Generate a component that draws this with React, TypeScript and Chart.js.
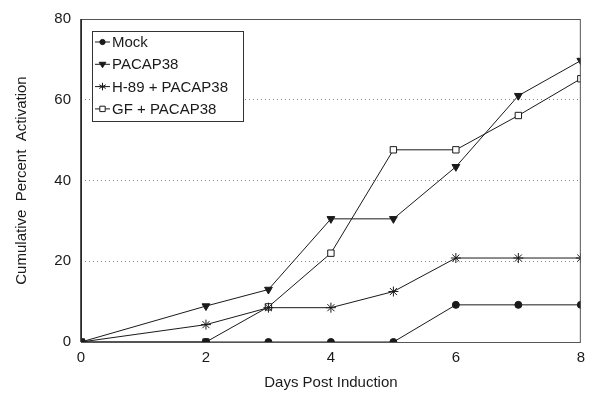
import React, { useEffect, useRef } from "react";
import { Chart, registerables } from "chart.js";

Chart.register(...registerables);

const days = [0, 2, 3, 4, 5, 6, 7, 8];
const mock = [0, 0, 0, 0, 0, 9.2, 9.2, 9.2];
const pacap38 = [0, 8.9, 13.0, 30.5, 30.5, 43.4, 61.0, 69.7];
const h89Pacap = [0, 4.3, 8.5, 8.5, 12.5, 20.8, 20.8, 20.8];
const gfPacap = [0, 0, 8.7, 22.0, 47.6, 47.6, 56.1, 65.2];
const seriesNames = ["Mock", "PACAP38", "H-89 + PACAP38", "GF + PACAP38"];
const yTicks = [0, 20, 40, 60, 80];
const xTicks = [0, 2, 4, 6, 8];

const FONT = "'Liberation Sans', Arial, sans-serif";
const INK = "#1a1a1a";

const styles = [
  { pointStyle: "circle", radius: 3.5, rotation: 0, fill: INK },
  { pointStyle: "triangle", radius: 4.5, rotation: 180, fill: INK },
  { pointStyle: "star", radius: 5, rotation: 0, fill: "#fff" },
  { pointStyle: "rect", radius: 4.5, rotation: 0, fill: "#fff" },
];

function drawMarker(ctx: CanvasRenderingContext2D, s: any, x: number, y: number, k: number) {
  const r = s.radius * k;
  ctx.save();
  ctx.strokeStyle = INK;
  ctx.lineWidth = 1;
  ctx.fillStyle = s.fill;
  ctx.beginPath();
  if (s.pointStyle === "circle") {
    ctx.arc(x, y, r, 0, Math.PI * 2);
    ctx.fill();
    ctx.stroke();
  } else if (s.pointStyle === "triangle") {
    ctx.moveTo(x - r, y - r * 0.6);
    ctx.lineTo(x + r, y - r * 0.6);
    ctx.lineTo(x, y + r);
    ctx.closePath();
    ctx.fill();
    ctx.stroke();
  } else if (s.pointStyle === "rect") {
    ctx.rect(x - r * 0.8, y - r * 0.8, r * 1.6, r * 1.6);
    ctx.fill();
    ctx.stroke();
  } else {
    for (let a = 0; a < 3; a++) {
      const ang = Math.PI / 2 + (a * Math.PI) / 3;
      ctx.moveTo(x + Math.cos(ang) * r, y + Math.sin(ang) * r);
      ctx.lineTo(x - Math.cos(ang) * r, y - Math.sin(ang) * r);
    }
    ctx.stroke();
  }
  ctx.restore();
}

const framePlugin = {
  id: "frame",
  afterDatasetsDraw(chart: any) {
    const { ctx, chartArea } = chart;
    ctx.save();
    ctx.strokeStyle = "#555";
    ctx.lineWidth = 1;
    ctx.strokeRect(chartArea.left + 0.5, chartArea.top + 0.5, chartArea.right - chartArea.left - 1, chartArea.bottom - chartArea.top);
    ctx.strokeStyle = INK;
    ctx.lineWidth = 1.5;
    ctx.beginPath();
    ctx.moveTo(chartArea.left, chartArea.top);
    ctx.lineTo(chartArea.left, chartArea.bottom);
    ctx.stroke();
    ctx.restore();
  },
  afterDraw(chart: any) {
    const { ctx, chartArea } = chart;
    const bx = chartArea.left + 11;
    const by = chartArea.top + 12;
    const bw = 151;
    const bh = 90;
    ctx.save();
    ctx.fillStyle = "#fff";
    ctx.fillRect(bx, by, bw, bh);
    ctx.strokeStyle = "#333";
    ctx.lineWidth = 1;
    ctx.strokeRect(bx + 0.5, by + 0.5, bw, bh);
    ctx.font = "15px " + FONT;
    ctx.textBaseline = "middle";
    seriesNames.forEach((name, i) => {
      const y = by + 11 + i * 22.3;
      ctx.strokeStyle = INK;
      ctx.lineWidth = 1;
      ctx.beginPath();
      ctx.moveTo(bx + 3, y);
      ctx.lineTo(bx + 18, y);
      ctx.stroke();
      drawMarker(ctx, styles[i], bx + 10.5, y, 0.75);
      ctx.fillStyle = INK;
      ctx.fillText(name, bx + 20, y + 1);
    });
    ctx.restore();
  },
};

export default function App() {
  const ref = useRef<HTMLCanvasElement>(null);
  useEffect(() => {
    document.body.style.margin = "0";
    const seriesData = [mock, pacap38, h89Pacap, gfPacap];
    const chart = new Chart(ref.current!, {
      type: "line",
      data: {
        datasets: seriesData.map((vals, i) => ({
          label: seriesNames[i],
          data: days.map((d, j) => ({ x: d, y: vals[j] })),
          borderColor: INK,
          borderWidth: 1,
          backgroundColor: styles[i].fill,
          pointBackgroundColor: styles[i].fill,
          pointBorderColor: INK,
          pointBorderWidth: 1,
          pointStyle: styles[i].pointStyle as any,
          pointRadius: styles[i].radius,
          pointRotation: styles[i].rotation,
          tension: 0,
          fill: false,
        })),
      },
      options: {
        animation: false,
        responsive: false,
        maintainAspectRatio: false,
        layout: { padding: { left: 0, right: 7, top: 10, bottom: 0 } },
        plugins: { legend: { display: false }, tooltip: { enabled: false } },
        scales: {
          x: {
            type: "linear",
            min: 0,
            max: 8,
            afterBuildTicks: (scale: any) => {
              scale.ticks = xTicks.map((v) => ({ value: v }));
            },
            afterFit: (scale: any) => {
              scale.height = 54;
            },
            grid: { display: false, drawTicks: false },
            border: { display: false },
            ticks: { color: INK, font: { family: FONT, size: 15 }, padding: 7, maxRotation: 0 },
            title: {
              display: true,
              text: "Days Post Induction",
              color: INK,
              font: { family: FONT, size: 15 },
              padding: { top: 0, bottom: 4 },
            },
          },
          y: {
            type: "linear",
            min: 0,
            max: 80,
            afterBuildTicks: (scale: any) => {
              scale.ticks = yTicks.map((v) => ({ value: v }));
            },
            afterFit: (scale: any) => {
              scale.width = 81;
            },
            grid: {
              drawTicks: false,
              color: (ctx: any) =>
                ctx.tick && (ctx.tick.value === 0 || ctx.tick.value === 80) ? "rgba(0,0,0,0)" : "#888",
              lineWidth: 1,
            },
            border: { display: false, dash: [1, 3] },
            ticks: { color: INK, font: { family: FONT, size: 15 }, padding: 10 },
            title: {
              display: true,
              text: "Cumulative  Percent  Activation",
              color: INK,
              font: { family: FONT, size: 15 },
              padding: { top: 13, bottom: 0 },
            },
          },
        },
      },
      plugins: [framePlugin],
    });
    return () => chart.destroy();
  }, []);
  return (
    <div style={{ width: 592, height: 396 }}>
      <canvas ref={ref} width={592} height={396} style={{ display: "block" }} />
    </div>
  );
}
